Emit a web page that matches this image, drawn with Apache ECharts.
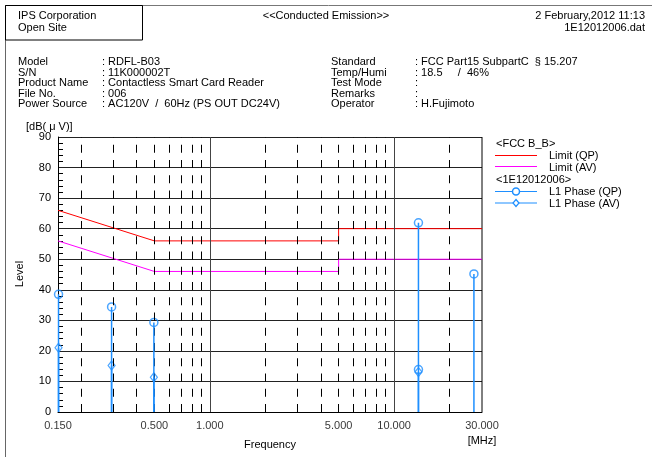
<!DOCTYPE html>
<html><head><meta charset="utf-8">
<script src="https://cdn.jsdelivr.net/npm/echarts@6/dist/echarts.min.js"></script>
<style>html,body{margin:0;padding:0;background:#fff}#c{width:652px;height:457px}</style>
</head><body><div id="c"></div>
<script>
// ---- data ----
const xTickValues = [0.15, 0.5, 1, 5, 10, 30];
const xTickLabels = ['0.150', '0.500', '1.000', '5.000', '10.000', '30.000'];
const solidGridFreqs = [1, 10];
const dashedGridFreqs = [0.2, 0.3, 0.4, 0.5, 0.6, 0.7, 0.8, 0.9, 2, 3, 4, 5, 6, 7, 8, 9, 20];

const limitFreq = [0.15, 0.5, 5, 5, 30];
const limitQP = [66, 56, 56, 60, 60];
const limitAV = [56, 46, 46, 50, 50];

const qpFreq = [0.151, 0.293, 0.497, 13.56, 13.56, 27.12];
const qpLevel = [38.5, 34.4, 29.3, 61.9, 13.9, 45.2];
const avFreq = [0.151, 0.293, 0.497, 13.56];
const avLevel = [21.0, 15.2, 11.4, 13.1];

const headerLeft = ['IPS Corporation', 'Open Site'];
const headerTitle = '<<Conducted Emission>>';
const headerRight = ['2 February,2012 11:13', '1E12012006.dat'];
const infoLeftKeys = ['Model', 'S/N', 'Product Name', 'File No.', 'Power Source'];
const infoLeftVals = [': RDFL-B03', ': 11K000002T', ': Contactless Smart Card Reader', ': 006', ': AC120V  /  60Hz (PS OUT DC24V)'];
const infoRightKeys = ['Standard', 'Temp/Humi', 'Test Mode', 'Remarks', 'Operator'];
const infoRightVals = [': FCC Part15 SubpartC  \u00a7 15.207', ': 18.5     /  46%', ':', ':', ': H.Fujimoto'];
const legendItems = ['<FCC B_B>', 'Limit (QP)', 'Limit (AV)', '<1E12012006>', 'L1 Phase (QP)', 'L1 Phase (AV)'];

// ---- build ----
const FONT = '"Liberation Sans", Arial, Helvetica, sans-serif';
const BLUE = '#1e8fff';
const pairs = (xs, ys) => xs.map((x, i) => [x, ys[i]]);
function stems(xs, ys) {
  const out = [];
  xs.forEach((x, i) => { out.push([x, 0], [x, ys[i]], [x, '-']); });
  return out;
}
function txt(t, x, y, align, size) {
  return { type: 'text', silent: true, style: { text: t, x: x, y: y, textAlign: align || 'left', textVerticalAlign: 'middle', font: (size || 11) + 'px ' + FONT, fill: '#000' } };
}
const g = [];
g.push({ type: 'line', silent: true, shape: { x1: 5, y1: 5.5, x2: 652, y2: 5.5 }, style: { stroke: '#777', lineWidth: 1 } });
g.push({ type: 'line', silent: true, shape: { x1: 5.5, y1: 5, x2: 5.5, y2: 457 }, style: { stroke: '#666', lineWidth: 1 } });
g.push({ type: 'rect', silent: true, shape: { x: 5.5, y: 5.5, width: 137, height: 34.5 }, style: { stroke: '#000', fill: 'none', lineWidth: 1 } });
g.push(txt(headerLeft[0], 18, 16)); g.push(txt(headerLeft[1], 18, 28));
g.push(txt(headerTitle, 326, 16, 'center'));
g.push(txt(headerRight[0], 645, 16, 'right')); g.push(txt(headerRight[1], 645, 28, 'right'));
const rowY = [62, 72.5, 83, 93.5, 104];
infoLeftKeys.forEach((k, i) => { g.push(txt(k, 18, rowY[i])); g.push(txt(infoLeftVals[i], 102, rowY[i])); });
infoRightKeys.forEach((k, i) => { g.push(txt(k, 331, rowY[i])); g.push(txt(infoRightVals[i], 415, rowY[i])); });
g.push(txt('[dB( \u03bc V)]', 26, 126.5));
g.push({ type: 'text', silent: true, rotation: Math.PI / 2, x: 20, y: 274, style: { text: 'Level', x: 0, y: 0, textAlign: 'center', textVerticalAlign: 'middle', font: '11px ' + FONT, fill: '#000' } });
g.push(txt('[MHz]', 482, 441, 'center'));
// legend
g.push(txt(legendItems[0], 496, 144));
g.push({ type: 'line', silent: true, shape: { x1: 495, y1: 155.5, x2: 537, y2: 155.5 }, style: { stroke: '#ff0000', lineWidth: 1 } });
g.push(txt(legendItems[1], 549, 156));
g.push({ type: 'line', silent: true, shape: { x1: 495, y1: 166.5, x2: 537, y2: 166.5 }, style: { stroke: '#ff00ff', lineWidth: 1 } });
g.push(txt(legendItems[2], 549, 168));
g.push(txt(legendItems[3], 496, 180));
g.push({ type: 'line', silent: true, shape: { x1: 495, y1: 191.5, x2: 537, y2: 191.5 }, style: { stroke: BLUE, lineWidth: 1.2 } });
g.push({ type: 'circle', silent: true, shape: { cx: 516, cy: 191.5, r: 3.5 }, style: { stroke: BLUE, fill: '#fff', lineWidth: 1.5 } });
g.push(txt(legendItems[4], 549, 192));
g.push({ type: 'line', silent: true, shape: { x1: 495, y1: 203, x2: 537, y2: 203 }, style: { stroke: BLUE, lineWidth: 1.2 } });
g.push({ type: 'polygon', silent: true, shape: { points: [[516, 199.5], [519, 203], [516, 206.5], [513, 203]] }, style: { stroke: BLUE, fill: '#fff', lineWidth: 1.2 } });
g.push(txt(legendItems[5], 549, 204));

const option = {
  animation: false,
  backgroundColor: '#fff',
  textStyle: { fontFamily: FONT },
  grid: { left: 58, top: 137, right: 170, bottom: 45, containLabel: false },
  xAxis: {
    type: 'log', logBase: 10, min: 0.15, max: 30,
    name: 'Frequency', nameLocation: 'middle', nameGap: 27,
    nameTextStyle: { color: '#000', fontSize: 11, fontFamily: FONT },
    axisLine: { show: true, onZero: false, lineStyle: { color: '#000', width: 1 } },
    axisTick: { show: false }, axisLabel: { show: false },
    splitLine: { show: false }, minorTick: { show: false }, minorSplitLine: { show: false }
  },
  yAxis: {
    type: 'value', min: 0, max: 90, interval: 10,
    axisLine: { show: true, lineStyle: { color: '#000', width: 1 } },
    axisTick: { show: false, inside: true },
    minorTick: { show: true, splitNumber: 5, length: 5, lineStyle: { color: '#000', width: 1 } },
    axisLabel: { color: '#000', fontSize: 11, fontFamily: FONT, margin: 7 },
    splitLine: { show: true, lineStyle: { color: '#222', width: 1 } }
  },
  graphic: g,
  series: [
    {
      type: 'line', data: [], silent: true, z: 1,
      markLine: {
        silent: true, symbol: 'none', label: { show: false }, animation: false,
        data: dashedGridFreqs.map(f => ({ xAxis: f, lineStyle: { color: '#000', width: 1, type: [8, 7.25] } }))
          .concat(solidGridFreqs.map(f => ({ xAxis: f, lineStyle: { color: '#444', width: 1, type: 'solid' } })))
      }
    },
    {
      type: 'line', data: [[30, 0], [30, 90]], silent: true, symbol: 'none', z: 2,
      lineStyle: { color: '#000', width: 1 }
    },
    { name: 'Limit (QP)', type: 'line', data: pairs(limitFreq, limitQP), symbol: 'none', z: 3, lineStyle: { color: '#ff0000', width: 1 } },
    { name: 'Limit (AV)', type: 'line', data: pairs(limitFreq, limitAV), symbol: 'none', z: 3, lineStyle: { color: '#ff00ff', width: 1 } },
    { type: 'line', data: stems(avFreq, avLevel), symbol: 'none', connectNulls: false, z: 5, lineStyle: { color: BLUE, width: 1.5 } },
    { type: 'line', data: stems(qpFreq, qpLevel), symbol: 'none', connectNulls: false, z: 5, lineStyle: { color: BLUE, width: 1.5 } },
    { name: 'L1 Phase (QP)', type: 'scatter', data: pairs(qpFreq, qpLevel), symbol: 'circle', symbolSize: 8, z: 4,
      itemStyle: { color: 'transparent', borderColor: BLUE, borderWidth: 1.5 } },
    { name: 'L1 Phase (AV)', type: 'scatter', data: pairs(avFreq, avLevel), symbol: 'diamond', symbolSize: [7, 9], z: 4,
      itemStyle: { color: 'transparent', borderColor: BLUE, borderWidth: 1.2 } },
    { type: 'scatter', data: xTickValues.map(v => [v, 0]), symbolSize: 0, clip: false, silent: true,
      label: { show: true, position: 'bottom', distance: 8, color: '#000', fontSize: 11, fontFamily: FONT,
        formatter: p => xTickLabels[p.dataIndex] } }
  ]
};
const chart = echarts.init(document.getElementById('c'));
chart.setOption(option);
</script>
</body></html>
